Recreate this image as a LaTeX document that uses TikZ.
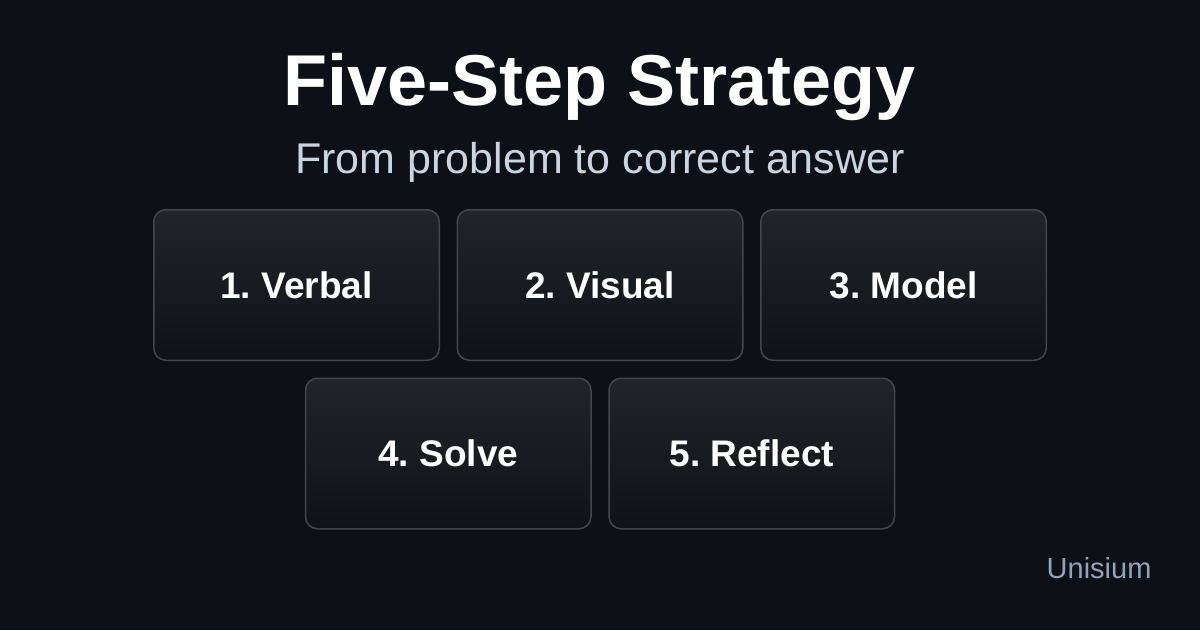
\documentclass[tikz,border=0pt]{standalone}
\usepackage{fontspec}
\setmainfont{Liberation Sans}
\usepackage{tikz}
\usetikzlibrary{positioning, calc}
\usepackage{xcolor}
\frenchspacing

\definecolor{bgdark}{HTML}{0D1117}
\definecolor{boxtop}{HTML}{21252B}
\definecolor{boxbot}{HTML}{0F1216}
\definecolor{boxline}{HTML}{43474D}
\definecolor{subgray}{HTML}{CBD5E1}
\definecolor{footgray}{HTML}{94A3B8}

\begin{document}
\begin{tikzpicture}[
x=1pt, y=-1pt,
node distance=16.5pt,
stepbox/.style={draw=boxline,
line width=1.5pt,
rounded corners=12pt,
top color=boxtop,
bottom color=boxbot,
minimum width=285.5pt,
minimum height=150.5pt,
inner sep=0pt,
text=white,
font=\fontsize{37}{44}\selectfont\bfseries,
align=center},
title/.style={text=white, font=\fontsize{72}{86}\selectfont\bfseries, anchor=base},
subtitle/.style={text=subgray, font=\fontsize{43}{52}\selectfont, anchor=base}
]

% background
\fill[bgdark] (0,0) rectangle (1200,630);
\useasboundingbox (0,0) rectangle (1200,630);

% heading
\node[title] (head) at (600,105) {Five-Step Strategy};
\node[subtitle] (sub) at (600,173) {From problem to correct answer};

% first row
\node[stepbox] (s1) at (296.5,285) {1. Verbal};
\node[stepbox, right=of s1] (s2) {2. Visual};
\node[stepbox, right=of s2] (s3) {3. Model};

% second row
\coordinate (mid) at ($(s1.south)!0.5!(s2.south)$);
\node[stepbox, below=of mid] (s4) {4. Solve};
\node[stepbox, right=of s4] (s5) {5. Reflect};

% footer
\node[text=footgray, font=\fontsize{29}{35}\selectfont, anchor=base east] (brand) at (1155,578) {Unisium};

\end{tikzpicture}
\end{document}
